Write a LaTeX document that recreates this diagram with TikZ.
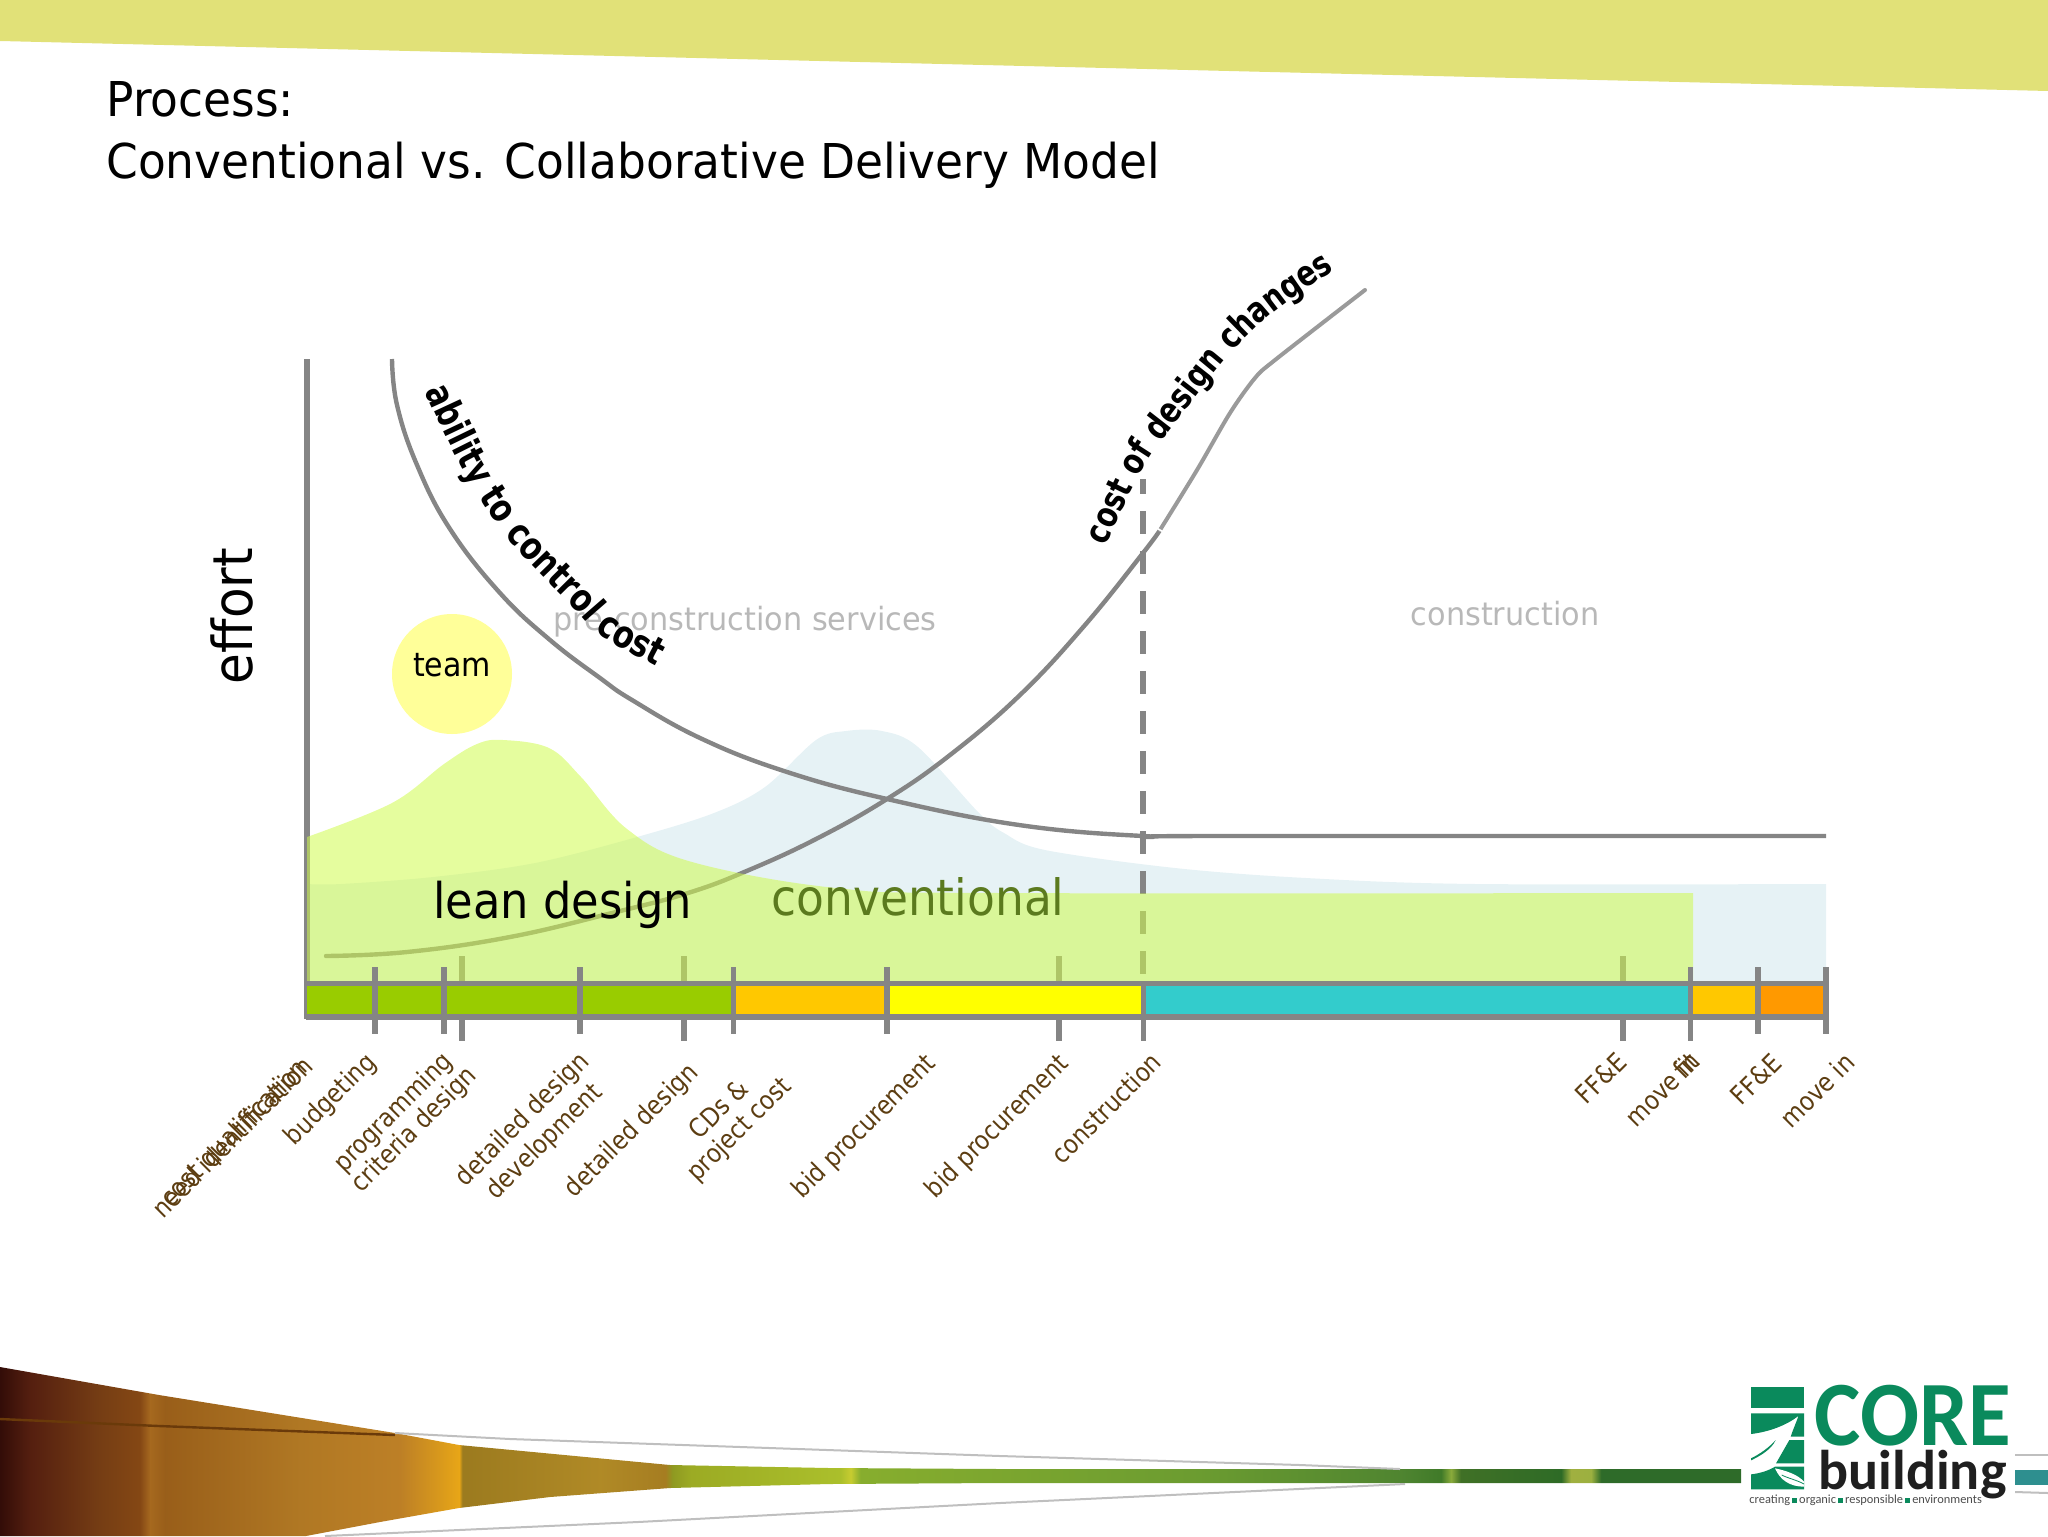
\documentclass[tikz,border=0pt]{standalone}
\usepackage{fontspec}
\setmainfont[FakeStretch=0.88]{DejaVu Sans}
\newfontfamily\titlef[FakeStretch=0.947]{DejaVu Sans}
\newfontfamily\midf[FakeStretch=0.91]{DejaVu Sans}
\newfontfamily\boldf[FakeStretch=0.8]{DejaVu Sans Bold}
\newfontfamily\logofont[FakeStretch=0.95]{Carlito}
\newfontfamily\logofontb{Carlito}
\usetikzlibrary{decorations.text}
\definecolor{bandc}{HTML}{E1E178}
\definecolor{linec}{HTML}{858585}
\definecolor{linec2}{HTML}{9A9A9A}
\definecolor{blueh}{HTML}{E6F2F5}
\definecolor{greenh}{RGB}{208,251,79}
\definecolor{brownt}{HTML}{5C3D11}
\definecolor{grayt}{HTML}{B8B8B8}
\definecolor{logog}{HTML}{0A8A5C}
\definecolor{convt}{HTML}{5B7A1E}
\definecolor{teamc}{HTML}{FFFF99}
\definecolor{segg}{RGB}{153,204,0}
\definecolor{sego}{RGB}{255,200,0}
\definecolor{segy}{RGB}{255,255,0}
\definecolor{segt}{RGB}{51,204,204}
\definecolor{sega}{RGB}{255,153,0}
\definecolor{streak}{RGB}{106,58,10}
\definecolor{tealb}{RGB}{46,143,143}
\pgfdeclarehorizontalshading{swoosh}{100bp}{
rgb(0bp)=(.20,.05,.03);rgb(25bp)=(.20,.05,.03);rgb(25.86bp)=(.33,.12,.06);rgb(27.87bp)=(.46,.24,.08);rgb(29.02bp)=(.52,.28,.08);rgb(29.31bp)=(.65,.41,.12);rgb(29.74bp)=(.60,.37,.10);rgb(33.62bp)=(.69,.47,.14);rgb(36.49bp)=(.74,.50,.15);rgb(37.64bp)=(.85,.60,.11);rgb(38.19bp)=(.91,.65,.09);rgb(38.28bp)=(.61,.48,.12);rgb(42.24bp)=(.69,.54,.15);rgb(44.11bp)=(.65,.49,.13);rgb(44.31bp)=(.56,.60,.13);rgb(44.83bp)=(.61,.67,.14);rgb(49.14bp)=(.67,.75,.17);rgb(49.43bp)=(.78,.80,.19);rgb(49.71bp)=(.53,.68,.18);rgb(59.48bp)=(.42,.61,.19);rgb(65.23bp)=(.31,.52,.19);rgb(66.38bp)=(.25,.48,.16);rgb(66.67bp)=(.54,.67,.23);rgb(66.95bp)=(.25,.44,.15);rgb(69.83bp)=(.18,.42,.15);rgb(70.11bp)=(.63,.69,.25);rgb(70.69bp)=(.61,.69,.25);rgb(70.98bp)=(.18,.42,.16);rgb(75bp)=(.18,.42,.16);rgb(100bp)=(.18,.42,.16)}
\tikzset{
  curveline/.style={draw=linec,line width=2.2pt,line cap=round},
  barline/.style={draw=linec,line width=2.7pt},
  tickline/.style={draw=linec,line width=2.7pt},
  lab/.style={inner sep=0pt,rotate=45,text=brownt,font=\fontsize{13}{15}\selectfont},
  faint/.style={inner sep=0pt,text=grayt,font=\titlef\fontsize{16}{19}\selectfont},
  big/.style={inner sep=0pt,anchor=base west,font=\midf\fontsize{25}{30}\selectfont},
  titletext/.style={inner sep=0pt,anchor=base west,font=\titlef\fontsize{24}{29}\selectfont},
  thin grey/.style={draw=black!25,line width=1pt},
}
\begin{document}
\begin{tikzpicture}[x=0.5pt,y=-0.5pt]
\useasboundingbox (0,0) rectangle (2048,1536);
% top band
\fill[bandc] (0,0) -- (2048,0) -- (2048,91) -- (0,41) -- cycle;
% title
\node[titletext] (t1) at (106,117) {Process:};
\node[titletext] (t2) at (106,178) {Conventional vs. Collaborative Delivery Model};
% conventional hump
\fill[blueh] plot[smooth,tension=0.55] coordinates {(307,884) (341,884) (433,877) (535,863) (637,837) (714,813) (765,787) (816,740) (846,731) (882,731) (918,747) (979,813) (1004,833) (1045,850) (1175,868) (1306,878) (1476,884) (1826,884)} -- (1826,982) -- (307,982) -- cycle;
% team
\fill[teamc] (452,674) circle (60);
\node[inner sep=0pt,font=\midf\fontsize{16.5}{20}\selectfont] (team) at (452,665) {team};
% axis
\draw[draw=linec,line width=3pt] (307,359) -- (307,1019);
% faint labels
\node[faint] (pre) at (745,622) {pre-construction services};
\node[faint] (con) at (1505,614) {construction};
% effort
\node[inner sep=0pt,rotate=90,font=\midf\fontsize{27.5}{32}\selectfont] (eff) at (232,616) {effort};
% ability curve
\draw[curveline,line cap=butt] plot[smooth,tension=0.7] coordinates {(392,359) (397,405) (417,465) (450,529) (500,593) (550,640) (600,678) (632,700) (700,738) (784,771) (887,799) (1019,825) (1143,836) (1220,836) (1826,836)};
% cost curve
\draw[curveline] plot[smooth,tension=0.7] coordinates {(326,956) (407,952) (510,937) (612,913) (688,893) (749,870) (818,838) (887,799) (950,755) (1020,695) (1085,625) (1143,553) (1160,530)};
\draw[draw=linec2,line width=2pt,line cap=round] plot[smooth,tension=0.5] coordinates {(1160,530) (1197,470) (1230,413) (1255,378) (1275,360) (1365,290)};
% dashed
\draw[draw=linec,line width=3pt,dash pattern=on 11.5pt off 8.5pt,dash phase=4pt] (1143,479) -- (1143,982);
% muted ticks
\foreach \tx/\ty in {462/1041,684/1041,1059/1041,1623/1041}{
  \draw[tickline] (\tx,956) -- (\tx,\ty);
}
% lean hump overlay
\fill[greenh,fill opacity=0.55] plot[smooth,tension=0.6] coordinates {(307,837) (392,803) (444,764) (477,744) (503,740) (549,748) (581,777) (627,829) (692,862) (836,888) (1000,893) (1693,893)} -- (1693,982) -- (307,982) -- cycle;
% bar
\fill[segg] (307,984) rectangle (733,1017);
\fill[sego] (733,984) rectangle (887,1017);
\fill[segy] (887,984) rectangle (1143,1017);
\fill[segt] (1143,984) rectangle (1690,1017);
\fill[sego] (1690,984) rectangle (1758,1017);
\fill[sega] (1758,984) rectangle (1826,1017);
\draw[barline] (305.5,983.5) -- (1826,983.5);
\draw[barline] (305.5,1017) -- (1826,1017);
\foreach \tx in {375,444,580,733.5,887,1758,1826}{
  \draw[tickline] (\tx,967) -- (\tx,1034);
}
\draw[tickline] (1690.5,967) -- (1690.5,1041);
\draw[tickline] (1143.5,982) -- (1143.5,1041);
\draw[draw=white,line width=0.8pt] (1155,527) -- (1165,533);
% big labels
\node[big,font=\midf\fontsize{24.6}{30}\selectfont] (lean) at (433,918) {lean design};
\node[big,text=convt] (conv) at (771,915) {conventional};
% curved bold labels
\path[decorate,decoration={text along path,text align=left,text format delimiters={|}{|},
  text={|\boldf\fontsize{19}{22}\selectfont|ability to control cost}}]
  plot[smooth,tension=0.6] coordinates {(425,391) (463,470) (507,537) (573,607) (603,637) (657,667) (720,700) (780,730)};
\path[decorate,decoration={text along path,text align=left,text format delimiters={|}{|},
  text={|\boldf\fontsize{17.6}{21}\selectfont|cost of design changes}}]
  plot[smooth,tension=0.6] coordinates {(1105,546) (1133,487) (1153,453) (1170,430) (1225,360) (1270,315) (1330,273) (1400,230) (1460,200)};
% axis labels
\node[lab] (l1a) at (232,1137) {need identification};
\node[lab] (l1b) at (235,1134) {cost qualification};
\node[lab] (l2) at (331,1100) {budgeting};
\node[lab] (l3) at (394,1113) {programming};
\node[lab] (l4) at (415,1130) {criteria design};
\node[lab] (l5) at (523,1120) {detailed design};
\node[lab] (l6) at (545,1142) {development};
\node[lab] (l7) at (632,1131) {detailed design};
\node[lab] (l8) at (718,1109) {CDs \&};
\node[lab] (l9) at (740,1130) {project cost};
\node[lab] (l10) at (865,1127) {bid procurement};
\node[lab] (l11) at (998,1127) {bid procurement};
\node[lab] (l12) at (1106,1108) {construction};
\node[lab] (l13) at (1601,1078) {FF\&E};
\node[lab] (l14) at (1662,1089) {move in};
\node[lab] (l14b) at (1686,1065) {fit};
\node[lab] (l15) at (1756,1079) {FF\&E};
\node[lab] (l16) at (1817,1090) {move in};
% swoosh
\shade[shading=swoosh] (0,1367) -- (159,1395) -- (395,1433) -- (459,1445) -- (670,1465) -- (829,1468) -- (1000,1469) -- (1741,1469) -- (1741,1483) -- (1000,1483) -- (829,1484) -- (670,1488) -- (550,1497) -- (459,1508) -- (380,1522) -- (306,1536) -- (0,1536) -- cycle;
\draw[draw=streak,line width=1.2pt] (0,1419) -- (159,1426) -- (395,1435);
\draw[thin grey] (395,1433) -- (510,1439) -- (1000,1456) -- (1300,1465) -- (1400,1469);
\draw[thin grey] (325,1536) -- (638,1522) -- (1000,1503) -- (1405,1484);
\fill[tealb] (2015,1470) rectangle (2048,1485);
\draw[thin grey] (2015,1455) -- (2048,1455);
\draw[thin grey] (2015,1492) -- (2048,1493);
% logo mark
\begin{scope}[shift={(1740,1380)},x=0.16667pt,y=-0.16667pt]
\fill[logog] (33,20) rectangle (192,85);
\fill[logog] (33,100) -- (192,100) -- (192,170) -- (152,170) .. controls (160,145) and (170,125) .. (175,108) .. controls (140,135) and (90,155) .. (33,162) -- cycle;
\fill[logog] (148,180) -- (192,180) -- (192,250) -- (108,250) -- cycle;
\fill[logog] (33,235) .. controls (60,222) and (90,200) .. (107,180) .. controls (95,208) and (60,228) .. (33,241) -- cycle;
\fill[logog] (33,283) .. controls (60,280) and (85,272) .. (105,260) -- (192,260) -- (192,328) -- (33,328) -- cycle;
\fill[white] (105,265) .. controls (140,272) and (175,285) .. (192,305) -- (192,320) .. controls (150,320) and (120,300) .. (105,265) -- cycle;
\draw[logog,line width=0.4pt] (125,285) .. controls (145,295) and (170,300) .. (192,312);
\end{scope}
% logo text
\node[inner sep=0pt,anchor=base west,text=logog,font=\logofont\bfseries\fontsize{46}{50}\selectfont] (core) at (1814,1445) {CORE};
\node[inner sep=0pt,anchor=base west,text=black!88,font=\logofontb\bfseries\fontsize{28}{30}\selectfont] (bld) at (1818,1489) {building};
\node[inner sep=0pt,anchor=base west,text=black!70,font=\logofontb\fontsize{6.2}{8}\selectfont] (tag) at (1749,1503) {creating\,\textcolor{logog}{\rule{2.5pt}{2.5pt}}\,organic\,\textcolor{logog}{\rule{2.5pt}{2.5pt}}\,responsible\,\textcolor{logog}{\rule{2.5pt}{2.5pt}}\,environments};
\end{tikzpicture}
\end{document}
